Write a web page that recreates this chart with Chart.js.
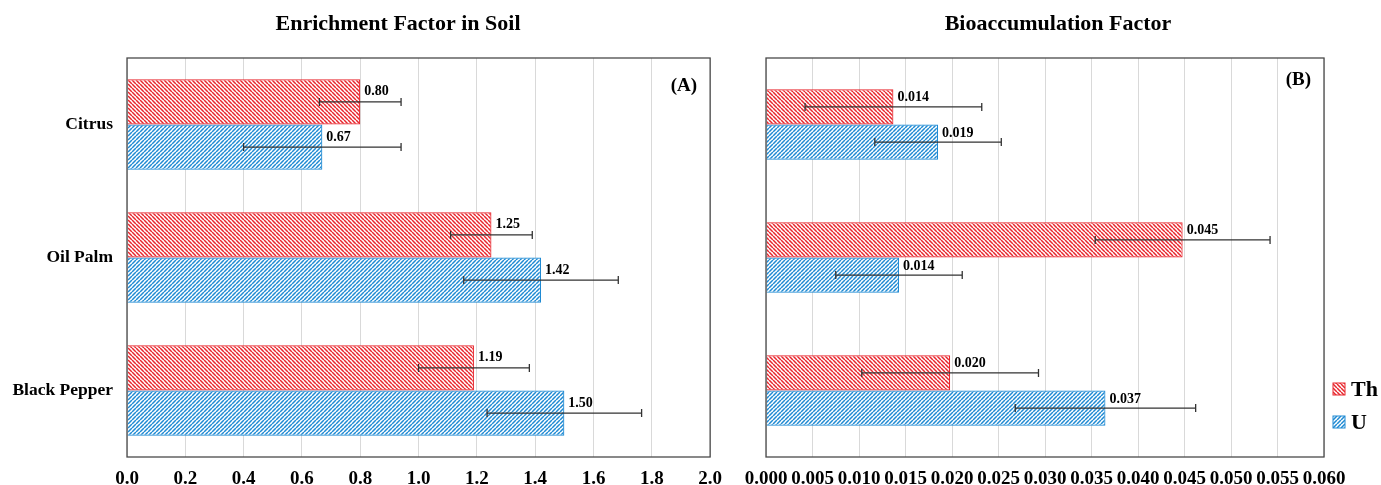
<!DOCTYPE html>
<html lang="en">
<head>
    <meta charset="UTF-8">
    <title>Enrichment and Bioaccumulation Factors</title>
    <style>
        body {
            margin: 0;
            background: #ffffff;
        }
        .panel {
            position: absolute;
            top: 0;
        }
        #efPanel {
            left: 0;
            width: 733px;
            height: 485px;
        }
        #bafPanel {
            left: 725px;
            width: 656px;
            height: 485px;
        }
    </style>
</head>
<body>
    <div class="panel" id="efPanel"><canvas id="efChart"></canvas></div>
    <div class="panel" id="bafPanel"><canvas id="bafChart"></canvas></div>

    <script src="https://cdn.jsdelivr.net/npm/chart.js@4.4.3/dist/chart.umd.min.js"></script>
    <script>
        const categories = ['Citrus', 'Oil Palm', 'Black Pepper'];
        const seriesNames = ['Th', 'U'];

        // Enrichment factor in soil (A)
        const efTh = [0.80, 1.25, 1.19];
        const efU = [0.67, 1.42, 1.50];
        const efThErr = [0.14, 0.14, 0.19];
        const efUErr = [0.27, 0.265, 0.265];
        const efThLabels = ['0.80', '1.25', '1.19'];
        const efULabels = ['0.67', '1.42', '1.50'];

        // Bioaccumulation factor (B)
        const bafTh = [0.0137, 0.0448, 0.0198];
        const bafU = [0.0185, 0.0143, 0.0365];
        const bafThErr = [0.0095, 0.0094, 0.0095];
        const bafUErr = [0.0068, 0.0068, 0.0097];
        const bafThLabels = ['0.014', '0.045', '0.020'];
        const bafULabels = ['0.019', '0.014', '0.037'];

        const FONT = "'Liberation Serif', 'Times New Roman', serif";
        const RED = '#e8262d';
        const BLUE = '#1f8ad3';

        function makeHatch(color, forward) {
            const s = 4;
            const c = document.createElement('canvas');
            c.width = s;
            c.height = s;
            const ctx = c.getContext('2d');
            ctx.fillStyle = '#ffffff';
            ctx.fillRect(0, 0, s, s);
            ctx.strokeStyle = color;
            ctx.lineWidth = 1.5;
            ctx.beginPath();
            for (const k of [-s, 0, s]) {
                if (forward) {
                    ctx.moveTo(k, s);
                    ctx.lineTo(k + s, 0);
                } else {
                    ctx.moveTo(k, 0);
                    ctx.lineTo(k + s, s);
                }
            }
            ctx.stroke();
            return ctx.createPattern(c, 'repeat');
        }

        const redHatch = makeHatch(RED, false);
        const blueHatch = makeHatch(BLUE, true);

        // title, frame around the plot area, error bars, value labels, panel tag
        const extrasPlugin = {
            id: 'extras',
            afterDatasetsDraw(chart, args, opts) {
                const ctx = chart.ctx;
                const xs = chart.scales.x;
                const area = chart.chartArea;
                ctx.save();

                chart.data.datasets.forEach((ds, i) => {
                    const meta = chart.getDatasetMeta(i);
                    meta.data.forEach((bar, j) => {
                        const v = ds.data[j];
                        const e = ds.errors[j];
                        const x0 = xs.getPixelForValue(v - e);
                        const x1 = xs.getPixelForValue(v + e);
                        ctx.strokeStyle = '#333333';
                        ctx.lineWidth = 1.3;
                        ctx.beginPath();
                        ctx.moveTo(x0, bar.y);
                        ctx.lineTo(x1, bar.y);
                        ctx.moveTo(x0, bar.y - 4);
                        ctx.lineTo(x0, bar.y + 4);
                        ctx.moveTo(x1, bar.y - 4);
                        ctx.lineTo(x1, bar.y + 4);
                        ctx.stroke();

                        ctx.fillStyle = '#000000';
                        ctx.font = 'bold 14px ' + FONT;
                        ctx.textAlign = 'left';
                        ctx.textBaseline = 'middle';
                        ctx.fillText(ds.valueLabels[j], bar.x + 4, bar.y - opts.labelLift);
                    });
                });

                ctx.strokeStyle = '#4a4a4a';
                ctx.lineWidth = 1.3;
                ctx.strokeRect(area.left, area.top, area.right - area.left, area.bottom - area.top);

                ctx.fillStyle = '#000000';
                ctx.font = 'bold 22px ' + FONT;
                ctx.textAlign = 'center';
                ctx.textBaseline = 'middle';
                ctx.fillText(opts.title, opts.titleX, 24);

                ctx.font = 'bold 19px ' + FONT;
                ctx.textAlign = 'right';
                ctx.fillText(opts.tag, area.right - 13, opts.tagY);

                if (opts.legend) {
                    ctx.font = 'bold 22px ' + FONT;
                    ctx.textAlign = 'left';
                    chart.data.datasets.forEach((ds, i) => {
                        const ly = opts.legendY + i * 33;
                        const lx = area.right + 9;
                        ctx.fillStyle = ds.backgroundColor;
                        ctx.fillRect(lx, ly - 6, 12, 12);
                        ctx.strokeStyle = ds.borderColor;
                        ctx.lineWidth = 1;
                        ctx.strokeRect(lx, ly - 6, 12, 12);
                        ctx.fillStyle = '#000000';
                        ctx.fillText(ds.label, lx + 18, ly + 1);
                    });
                }
                ctx.restore();
            }
        };

        function buildDatasets(th, u, thErr, uErr, thLabels, uLabels) {
            return [
                {
                    label: seriesNames[0],
                    data: th,
                    errors: thErr,
                    valueLabels: thLabels,
                    backgroundColor: redHatch,
                    borderColor: RED,
                    borderWidth: 1.2
                },
                {
                    label: seriesNames[1],
                    data: u,
                    errors: uErr,
                    valueLabels: uLabels,
                    backgroundColor: blueHatch,
                    borderColor: BLUE,
                    borderWidth: 1.2
                }
            ];
        }

        function buildOptions(cfg) {
            return {
                indexAxis: 'y',
                responsive: true,
                maintainAspectRatio: false,
                animation: false,
                datasets: {
                    bar: {
                        categoryPercentage: cfg.catPct,
                        barPercentage: 1.0
                    }
                },
                layout: { padding: { left: 0, right: cfg.rightPad, top: 58, bottom: 0 } },
                plugins: {
                    legend: { display: false },
                    tooltip: { enabled: false },
                    title: { display: false },
                    extras: {
                        title: cfg.title,
                        titleX: cfg.titleX,
                        tag: cfg.tag,
                        tagY: cfg.tagY,
                        labelLift: cfg.labelLift,
                        legend: cfg.legend,
                        legendY: 389
                    }
                },
                scales: {
                    x: {
                        min: 0,
                        max: cfg.max,
                        afterFit: scale => { scale.height = 28; },
                        border: { display: false },
                        grid: { color: '#d9d9d9', lineWidth: 1, drawTicks: false },
                        ticks: {
                            stepSize: cfg.step,
                            autoSkip: false,
                            maxRotation: 0,
                            padding: 11,
                            color: '#000000',
                            font: { family: FONT, size: 19, weight: 'bold' },
                            callback: value => Number(value).toFixed(cfg.digits)
                        }
                    },
                    y: {
                        afterFit: scale => { scale.width = cfg.yWidth; },
                        border: { display: false },
                        grid: { display: false, drawTicks: false },
                        ticks: {
                            display: cfg.showCats,
                            padding: 14,
                            color: '#000000',
                            font: { family: FONT, size: 17.5, weight: 'bold' }
                        }
                    }
                }
            };
        }

        window.efChart = new Chart(document.getElementById('efChart'), {
            type: 'bar',
            data: {
                labels: categories,
                datasets: buildDatasets(efTh, efU, efThErr, efUErr, efThLabels, efULabels)
            },
            options: buildOptions({
                title: 'Enrichment Factor in Soil',
                titleX: 398,
                max: 2.0,
                step: 0.2,
                digits: 1,
                catPct: 0.68,
                yWidth: 127,
                showCats: true,
                rightPad: 0,
                tag: '(A)',
                tagY: 86,
                labelLift: 10,
                legend: false
            }),
            plugins: [extrasPlugin]
        });

        window.bafChart = new Chart(document.getElementById('bafChart'), {
            type: 'bar',
            data: {
                labels: categories,
                datasets: buildDatasets(bafTh, bafU, bafThErr, bafUErr, bafThLabels, bafULabels)
            },
            options: buildOptions({
                title: 'Bioaccumulation Factor',
                titleX: 333,
                max: 0.06,
                step: 0.005,
                digits: 3,
                catPct: 0.53,
                yWidth: 41,
                showCats: false,
                rightPad: 57,
                tag: '(B)',
                tagY: 80,
                labelLift: 9,
                legend: true
            }),
            plugins: [extrasPlugin]
        });
    </script>
</body>
</html>
